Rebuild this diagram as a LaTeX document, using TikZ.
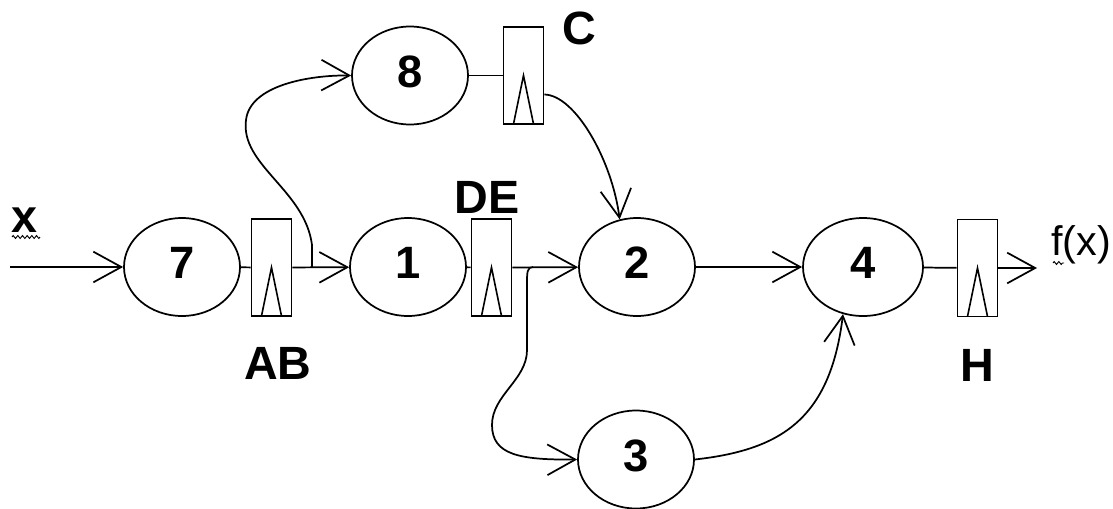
\documentclass[tikz,border=0pt]{standalone}
\usepackage{fontspec}
\setmainfont{Liberation Sans}
\usetikzlibrary{shapes.geometric,arrows.meta,calc,decorations.pathmorphing}
\begin{document}
\begin{tikzpicture}[x=0.75pt,y=-0.75pt,line width=1.3pt,
  proc/.style={ellipse,draw,minimum width=87pt,minimum height=73.5pt,inner sep=0pt,
    font=\fontsize{34}{34}\selectfont\bfseries,text depth=6pt},
  reg/.style={rectangle,draw,minimum width=30pt,minimum height=72.75pt,inner sep=0pt,
    path picture={\draw[line width=1.2pt]
      ($(path picture bounding box.south west)!0.25!(path picture bounding box.south east)$)
      -- (path picture bounding box.center)
      -- ($(path picture bounding box.south west)!0.75!(path picture bounding box.south east)$);}},
  lbl/.style={font=\fontsize{35}{35}\selectfont\bfseries,inner sep=0pt},
  arr/.style={-{Straight Barb[length=21pt,width=23pt]}},
  squig/.style={decorate,decoration={zigzag,segment length=3.5pt,amplitude=1.1pt},line width=0.7pt}
]
\useasboundingbox (0,0) rectangle (1113,508);

% processing nodes
\node[proc] (n7) at (182,267) {7};
\node[proc] (n1) at (408,267) {1};
\node[proc] (n2) at (637,267) {2};
\node[proc,minimum width=90pt] (n4) at (863,267) {4};
\node[proc] (n8) at (410,75.5) {8};
\node[proc] (n3) at (636,459.5) {3};

% registers
\node[reg] (AB) at (271.5,267.5) {};
\node[reg] (DE) at (491.5,267.5) {};
\node[reg] (C) at (523.5,75.5) {};
\node[reg] (H) at (977.5,268) {};

% labels
\node[lbl] (lAB) at (278,363) {AB};
\node[lbl] (lDE) at (487,197) {DE};
\node[lbl] (lC) at (579,28) {C};
\node[lbl] (lH) at (977,365) {H};
\node[font=\fontsize{35}{35}\selectfont\bfseries,inner sep=0pt] (lx) at (24,220) {x};
\node[font=\fontsize{31}{31}\selectfont,inner sep=0pt] (lf) at (1081,245) {f(x)};
\draw[squig] (12,237) -- (40,237);
\draw[squig] (1053,263) -- (1064,263);

% free ends and branch points
\coordinate (xin) at (10,267);
\coordinate (xout) at (1037,268);
\coordinate (b1) at (312,267);
\coordinate (b2) at (533,267);

% connectors
\draw[arr] (xin) -- (n7.west);
\draw (n7) -- (AB);
\draw[arr] (AB) -- (n1);
\draw[arr] (b1) -- (312,245) .. controls (305,190) and (240,165) .. (246,120)
  .. controls (250,85) and (310,75) .. (n8.west);
\draw (n1) -- (DE);
\draw[arr] (DE) -- (n2);
\draw[arr] (b2) .. controls (527,267) and (527,272) .. (527,285) -- (527,350)
  .. controls (527,380) and (492,395) .. (492,425)
  .. controls (492,455) and (520,460) .. (n3.west);
\draw (n8) -- (C);
\draw[arr] ($(C.east)+(0,19)$) .. controls (575,95) and (612,160) .. (n2.110);
\draw[arr] (n2) -- (n4);
\draw[arr] (n3.east) .. controls (780,450) and (830,420) .. (n4.247);
\draw (n4) -- (H);
\draw[arr] (H) -- (xout);
\end{tikzpicture}
\end{document}
